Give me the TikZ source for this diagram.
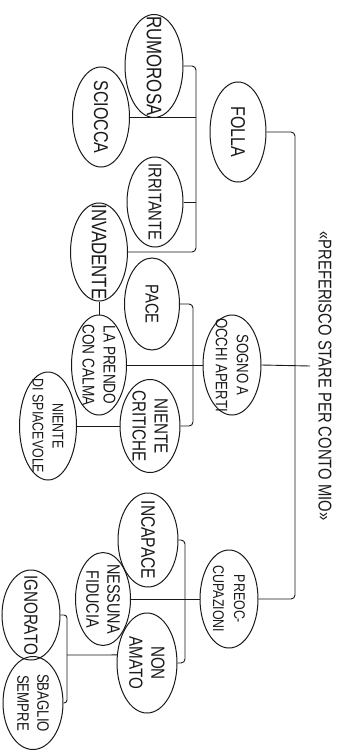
\documentclass[tikz,border=0pt]{standalone}
\usepackage{fontspec}
\usetikzlibrary{shapes.geometric,calc}
\newfontfamily\cond[FakeStretch=0.8]{Liberation Sans}
\definecolor{ink}{RGB}{25,25,25}
\tikzset{
  bub/.style={draw=ink, line width=1pt, ellipse, inner sep=0pt, rotate=-90},
  txt/.style={rotate=-90, align=center, inner sep=0pt, text=ink},
  con/.style={draw=ink, line width=0.9pt, rounded corners=4pt},
}
% #1 name, #2 position, #3 text, #4 long axis, #5 short axis, #6 font size, #7 line skip
\newcommand\bubble[7]{%
  \node[bub, minimum width=#4pt, minimum height=#5pt] (#1) at #2 {};
  \node[txt, font=\cond\fontsize{#6}{#7}\selectfont] at (#1.center) {#3};
}
\begin{document}
\begin{tikzpicture}[x=1pt,y=1pt]
\useasboundingbox (0,0) rectangle (339,-752);
\fill[white] (0,0) rectangle (339,-752);

% title
\node[txt, font=\cond\fontsize{18.5}{20}\selectfont] (title) at (325,-376) {«PREFERISCO STARE PER CONTO MIO»};

% bubbles
\bubble{rum}{(154,-66)}{RUMOROSA}{103}{58}{21}{22}
\bubble{sci}{(101,-117)}{SCIOCCA}{100}{57}{20}{22}
\bubble{fol}{(238,-132)}{FOLLA}{100}{56}{20}{22}
\bubble{irr}{(155,-202)}{IRRITANTE}{90}{56}{18.5}{20}
\bubble{inv}{(99,-252)}{INVADENTE}{98}{57}{21}{22}
\bubble{pac}{(152,-304)}{PACE}{92}{55}{18.5}{20}
\bubble{sog}{(232,-365)}{SOGNO A\\OCCHI APERTI}{100}{58}{16.5}{21}
\bubble{cal}{(99,-365)}{LA PRENDO\\CON CALMA}{100}{55}{17}{21}
\bubble{cri}{(150,-426)}{NIENTE\\CRITICHE}{93}{60}{19}{22}
\bubble{spi}{(48,-426)}{NIENTE\\DI SPIACEVOLE}{108}{57}{15.5}{20}
\bubble{inc}{(148,-540)}{INCAPACE}{94}{60}{19.5}{22}
\bubble{pre}{(229,-599)}{PREOC-\\CUPAZIONI}{98}{58}{15.5}{21}
\bubble{nes}{(103,-599)}{NESSUNA\\FIDUCIA}{93}{55}{18}{21}
\bubble{non}{(147,-663)}{NON\\AMATO}{100}{60}{19}{22}
\bubble{ign}{(31,-615)}{IGNORATO}{90}{58}{19}{22}
\bubble{sba}{(33,-703)}{SBAGLIO\\SEMPRE}{93}{60}{16.5}{20}

% connectors
\coordinate (trk) at (295,-366);
\coordinate (tre) at (310,-366);
\draw[con] (fol.north) -| (trk) |- (pre.north);
\draw[con] (sog.north) -- (tre);

\coordinate (b1) at (196,-160);
\draw[con] (rum.north) -| (b1) |- (inv.north);
\draw[con] (sci.north) -- (sci.north -| b1);
\draw[con] (irr.north) -- (irr.north -| b1);

\coordinate (b2) at (193,-360);
\draw[con] (pac.north) -| (b2) |- (cri.north);
\draw[con] (sog.south) -- (cal.north);
\draw[con] (inv.east) -- (cal.west);
\draw[con] (spi.north) -- (cri.south);

\coordinate (b3) at (185,-600);
\draw[con] (inc.north) -| (b3) |- (non.north);
\draw[con] (pre.south) -- (nes.north);

\coordinate (b5) at (67,-655);
\draw[con, rounded corners=3pt] (ign.north) -| (b5) |- (sba.north);
\draw[con] (non.255) -- (b5);
\end{tikzpicture}
\end{document}
